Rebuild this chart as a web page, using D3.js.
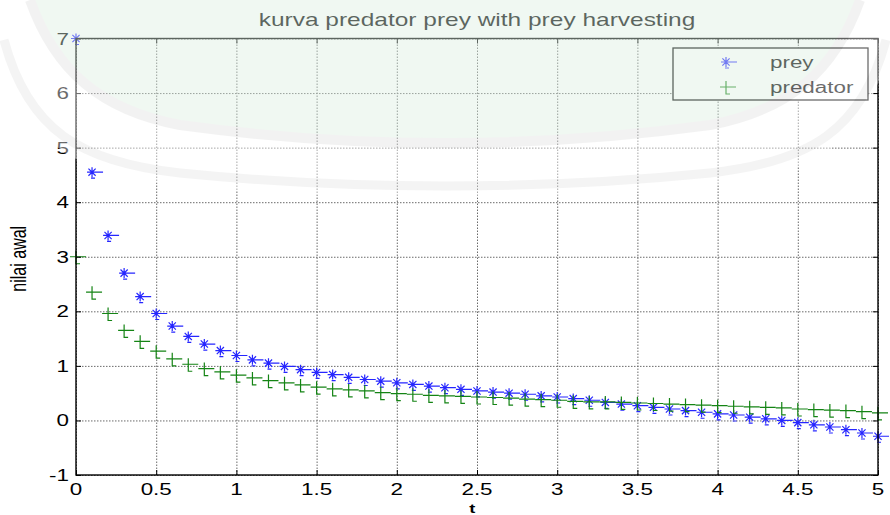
<!DOCTYPE html>
<html>
<head>
<meta charset="utf-8">
<script src="https://cdn.jsdelivr.net/npm/d3@7"></script>
<style>
  body { margin: 0; background: #fff; }
  text { font-family: "Liberation Sans", Arial, sans-serif; fill: #000; }
</style>
</head>
<body>
<svg id="chart" width="890" height="515"></svg>
<script>
// time samples (t) and the two series
const tValues = [0, 0.1, 0.2, 0.3, 0.4, 0.5, 0.6, 0.7, 0.8, 0.9,
  1, 1.1, 1.2, 1.3, 1.4, 1.5, 1.6, 1.7, 1.8, 1.9,
  2, 2.1, 2.2, 2.3, 2.4, 2.5, 2.6, 2.7, 2.8, 2.9,
  3, 3.1, 3.2, 3.3, 3.4, 3.5, 3.6, 3.7, 3.8, 3.9,
  4, 4.1, 4.2, 4.3, 4.4, 4.5, 4.6, 4.7, 4.8, 4.9, 5];
const preyValues = [7.00, 4.55, 3.39, 2.70, 2.27, 1.96, 1.73, 1.54, 1.40, 1.28,
  1.19, 1.11, 1.05, 0.99, 0.93, 0.88, 0.84, 0.79, 0.75, 0.72,
  0.69, 0.66, 0.63, 0.60, 0.57, 0.54, 0.52, 0.50, 0.48, 0.45,
  0.43, 0.40, 0.37, 0.33, 0.30, 0.27, 0.24, 0.21, 0.18, 0.15,
  0.12, 0.10, 0.06, 0.03, 0.00, -0.04, -0.08, -0.12, -0.17, -0.23, -0.29];
const predatorValues = [3.00, 2.35, 1.96, 1.65, 1.45, 1.27, 1.13, 1.03, 0.95, 0.89,
  0.83, 0.78, 0.73, 0.69, 0.65, 0.61, 0.58, 0.56, 0.54, 0.51,
  0.49, 0.48, 0.46, 0.45, 0.44, 0.43, 0.42, 0.41, 0.39, 0.38,
  0.37, 0.35, 0.34, 0.34, 0.33, 0.32, 0.31, 0.30, 0.29, 0.28,
  0.27, 0.26, 0.25, 0.24, 0.23, 0.21, 0.20, 0.19, 0.18, 0.16, 0.14];
const xTicks = [0, 0.5, 1, 1.5, 2, 2.5, 3, 3.5, 4, 4.5, 5];
const yTicks = [-1, 0, 1, 2, 3, 4, 5, 6, 7];
const seriesNames = ["prey", "predator"];

const margin = {left: 76, right: 12, top: 38.5, bottom: 40};
const W = 890, H = 515;
const w = W - margin.left - margin.right, h = H - margin.top - margin.bottom;
const SX = 1.4; // the figure's text is stretched sideways

const svg = d3.select("#chart");
const x = d3.scaleLinear().domain([0, 5]).range([margin.left, margin.left + w]);
const y = d3.scaleLinear().domain([-1, 7]).range([margin.top + h, margin.top]);

const colors = {prey: "#2626ff", predator: "#148414"};

function sText(g, px, py, str, anchor, size) {
  return g.append("text")
    .attr("transform", "translate(" + px + "," + py + ") scale(" + SX + ",1)")
    .attr("text-anchor", anchor)
    .style("font-size", size + "px")
    .text(str);
}

svg.append("rect").attr("width", W).attr("height", H).attr("fill", "#fff");

//grid (dotted)
let grid = svg.append("g").attr("class", "grid");
grid.append("g")
  .attr("transform", "translate(0," + (margin.top + h) + ")")
  .call(d3.axisBottom(x).tickValues(xTicks).tickSize(-h).tickFormat(""))
  .call(g => g.select(".domain").remove());
grid.append("g")
  .attr("transform", "translate(" + margin.left + ",0)")
  .call(d3.axisLeft(y).tickValues(yTicks).tickSize(-w).tickFormat(""))
  .call(g => g.select(".domain").remove());
grid.selectAll("line").attr("stroke", "#6a6a6a").attr("stroke-width", 1).attr("stroke-dasharray", "1.5,1.5");

//markers: the scanned figure shows each marker with a short dash trailing to the right
const starPath = function(r){
  let d = r * 0.72;
  return "M" + (-r) + ",0H" + (r + 6) + "M0," + (-r) + "V" + r +
    "M" + (-d) + "," + (-d) + "L" + d + "," + d + "M" + (-d) + "," + d + "L" + d + "," + (-d) +
    "M-1," + (r + 1) + "H3";
};
const plusPath = function(r){
  return "M" + (-r) + ",0H" + (r + 4) + "M0," + (-r) + "V" + (r + 1) + "H4";
};

const series = [
  {name: "prey", vals: preyValues, marker: starPath(5)},
  {name: "predator", vals: predatorValues, marker: plusPath(6)}
];

let plot = svg.append("g").attr("class", "plot");
series.forEach(function(s){
  plot.selectAll(".m-" + s.name)
    .data(s.vals)
    .enter().append("path")
    .attr("class", "m-" + s.name)
    .attr("transform", function(d, i){ return "translate(" + x(tValues[i]) + "," + y(d) + ")"; })
    .attr("d", s.marker)
    .attr("fill", "none")
    .attr("stroke", colors[s.name])
    .attr("stroke-width", 1.2);
});

//axes box + inward ticks
let axes = svg.append("g").attr("class", "axes");
function tickStyle(g){
  g.select(".domain").remove();
  g.selectAll("text").remove();
  g.selectAll("line").attr("stroke", "#000");
}
axes.append("g").attr("transform", "translate(0," + (margin.top + h) + ")")
  .call(d3.axisBottom(x).tickValues(xTicks).tickSize(-5)).call(tickStyle);
axes.append("g").attr("transform", "translate(0," + margin.top + ")")
  .call(d3.axisTop(x).tickValues(xTicks).tickSize(-5)).call(tickStyle);
axes.append("g").attr("transform", "translate(" + margin.left + ",0)")
  .call(d3.axisLeft(y).tickValues(yTicks).tickSize(-5)).call(tickStyle);
axes.append("g").attr("transform", "translate(" + (margin.left + w) + ",0)")
  .call(d3.axisRight(y).tickValues(yTicks).tickSize(-5)).call(tickStyle);
axes.append("rect")
  .attr("x", margin.left).attr("y", margin.top)
  .attr("width", w).attr("height", h)
  .attr("fill", "none").attr("stroke", "#000").attr("stroke-width", 1.4);

//tick labels
xTicks.forEach(function(t){
  sText(axes, x(t), margin.top + h + 20, String(t), "middle", 16);
});
yTicks.forEach(function(v){
  sText(axes, margin.left - 7, y(v) + 6, String(v), "end", 16);
});

//title + axis labels
sText(svg, margin.left + w / 2, 26, "kurva predator prey with prey harvesting", "middle", 17.5);
sText(svg, x(2.47), 513, "t", "middle", 13).style("font-weight", "bold");
svg.append("text")
  .attr("transform", "translate(26," + (y(3) + 2) + ") scale(" + SX + ",1) rotate(-90)")
  .attr("text-anchor", "middle")
  .style("font-size", "16px")
  .text("nilai awal");

//legend
let legend = svg.append("g").attr("class", "legend");
legend.append("rect")
  .attr("x", 673).attr("y", 48).attr("width", 195).attr("height", 52)
  .attr("fill", "#fff").attr("stroke", "#000").attr("stroke-width", 1.3);
series.forEach(function(s, i){
  let ly = 62 + i * 25;
  legend.append("path")
    .attr("transform", "translate(726," + ly + ")")
    .attr("d", s.marker)
    .attr("fill", "none")
    .attr("stroke", colors[s.name])
    .attr("stroke-width", 1.2);
  sText(legend, 770, ly + 6, seriesNames[i], "start", 16);
});

//faint library watermark laid over the upper part of the page
let wm = svg.append("g").attr("class", "watermark").attr("opacity", 0.42).style("pointer-events", "none");
wm.append("path")
  .attr("d", "M0,40 C20,140 70,172 170,185 C280,196 380,198 445,198 C510,198 610,196 720,185 C820,172 870,140 890,40 L890,0 L0,0 Z")
  .attr("fill", "#ffffff");
wm.append("path")
  .attr("d", "M30,0 C55,70 100,110 180,125 C290,140 380,143 445,143 C510,143 600,140 710,125 C790,110 835,70 860,0 Z")
  .attr("fill", "#dcf0e2");
wm.append("path")
  .attr("d", "M30,0 C55,70 100,110 180,125 C290,140 380,143 445,143 C510,143 600,140 710,125 C790,110 835,70 860,0")
  .attr("fill", "none").attr("stroke", "#e2e2e2").attr("stroke-width", 10);
wm.append("path")
  .attr("d", "M4,40 C28,130 80,162 180,173 C290,184 380,186 445,186 C510,186 600,184 710,173 C810,162 862,130 886,40")
  .attr("fill", "none").attr("stroke", "#e6e6e6").attr("stroke-width", 9);
</script>
</body>
</html>
